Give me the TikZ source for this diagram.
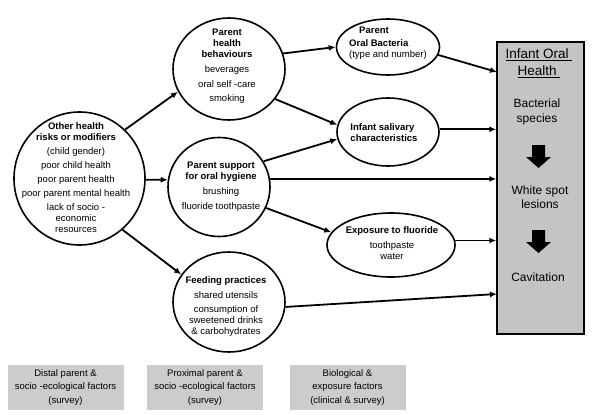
\documentclass[tikz,border=0pt]{standalone}
\usepackage{fontspec}
\setmainfont{Liberation Sans}
\usetikzlibrary{shapes.geometric,arrows.meta}
\begin{document}
\begin{tikzpicture}[x=1pt,y=-1pt,
  oval/.style={draw, ellipse, line width=1.6pt, inner sep=0pt},
  txt/.style={align=center, font=\fontsize{9.5}{11}\selectfont, inner sep=0pt},
  conn/.style={line width=1.8pt, -{Latex[length=7pt,width=6pt]}},
  band/.style={fill=black!20, inner sep=0pt, minimum width=116pt, minimum height=45pt, align=center, font=\fontsize{9.5}{13.5}\selectfont},
  boxtxt/.style={align=center, font=\fontsize{12}{14.5}\selectfont, inner sep=0pt},
  blockarrow/.style={fill=black}]
\useasboundingbox (0,0) rectangle (600,415);

% right box
\node[draw, fill=black!23, line width=1.5pt, minimum width=87pt, minimum height=292pt, inner sep=0pt] (box) at (540.5,188) {};
\node[boxtxt, font=\fontsize{13.5}{17}\selectfont] (title) at (539,63) {\underline{Infant Oral\ }\\\underline{Health\ }};
\node[boxtxt] (bac) at (537,112) {Bacterial\\species};
\node[boxtxt] (wsl) at (540,197) {White spot\\lesions};
\node[boxtxt] (cav) at (538,277) {Cavitation};
\fill[blockarrow] (532,145) -- (545,145) -- (545,157) -- (551,157) -- (538.5,168) -- (526,157) -- (532,157) -- cycle;
\fill[blockarrow] (532,230) -- (545,230) -- (545,242) -- (551,242) -- (538.5,253) -- (526,242) -- (532,242) -- cycle;

% ellipses
\node[oval, minimum width=131pt, minimum height=133pt] (oth) at (79.5,178.5) {};
\node[txt] (oth-t) at (76,178) {\textbf{Other health}\\\textbf{risks or modifiers}\\[3pt](child gender)\\[3pt]poor child health\\[3pt]poor parent health\\[3pt]poor parent mental health\\[3pt]lack of socio -\\economic\\resources};

\node[oval, minimum width=112pt, minimum height=102pt] (phb) at (229,69) {};
\node[txt] (phb-t) at (227,66) {\textbf{Parent}\\\textbf{health}\\\textbf{behaviours}\\[4pt]beverages\\[4pt]oral self -care\\[3pt]smoking};

\node[oval, minimum width=102pt, minimum height=99pt] (sup) at (219,187) {};
\node[txt] (sup-t) at (221,187) {\textbf{Parent support}\\\textbf{for oral hygiene}\\[4pt]brushing\\[4pt]fluoride toothpaste};

\node[oval, minimum width=112pt, minimum height=100pt] (fee) at (229,302) {};
\node[txt] (fee-t) at (226,307) {\textbf{Feeding practices}\\[4pt]shared utensils\\[3pt]consumption of\\sweetened drinks\\\&~carbohydrates};

\node[oval, minimum width=103pt, minimum height=56pt] (pob) at (388,47) {};
\node[txt, align=left] (pob-t) at (388,43) {\hspace*{10pt}\textbf{Parent}\\[2pt]\textbf{Oral Bacteria}\\(type and number)};

\node[oval, minimum width=102pt, minimum height=68pt] (sal) at (388,132) {};
\node[txt, align=left] (sal-t) at (384,132.5) {\textbf{Infant salivary}\\\textbf{characteristics}};

\node[oval, minimum width=128pt, minimum height=64pt] (exf) at (391,245) {};
\node[txt] (exf-t) at (392,243) {\textbf{Exposure to fluoride}\\[4pt]toothpaste\\water};

% bottom bands
\node[band] (d1) at (65.5,387.5) {Distal parent \&\\socio -ecological factors\\(survey)};
\node[band] (d2) at (205,387.5) {Proximal parent \&\\socio -ecological factors\\(survey)};
\node[band] (d3) at (347.5,387.5) {Biological \&\\exposure factors\\(clinical \& survey)};

% box inputs
\coordinate (in1) at (497,72);
\coordinate (in5) at (497,294);

% connectors
\draw[conn] (oth.47) -- (phb.204);
\draw[conn] (oth.-1) -- (sup.172);
\draw[conn] (oth.-50) -- (fee.150);
\draw[conn] (phb.16) -- (pob.180);
\draw[conn] (phb.-33) -- (sal.172);
\draw[conn] (sup.30) -- (sal.188);
\draw[conn] (sup.9) -- (sup.9 -| box.west);
\draw[conn] (sup.-24) -- (exf.168);
\draw[conn] (fee.-5) -- (in5);
\draw[conn] (pob.-9) -- (in1);
\draw[conn] (sal.3) -- (sal.3 -| box.west);
\draw[conn] (exf.4) -- (exf.4 -| box.west);
\end{tikzpicture}
\end{document}
